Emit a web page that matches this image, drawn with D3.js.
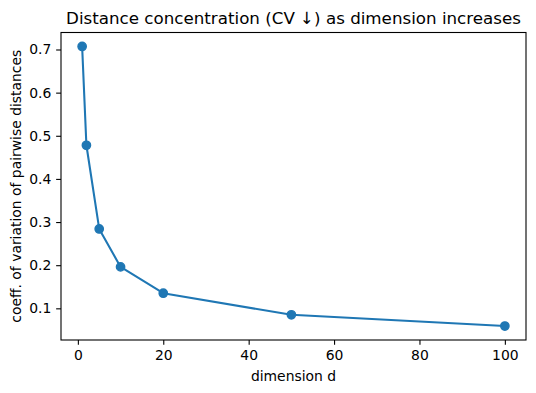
<!DOCTYPE html>
<html>
<head>
<meta charset="utf-8">
<script src="https://cdn.jsdelivr.net/npm/d3@7"></script>
<style>
  body { margin: 0; background: #fff; }
  svg text { font-family: "DejaVu Sans", sans-serif; fill: #000; }
</style>
</head>
<body>
<div id="chart"></div>
<script>
// values
var dims = [1, 2, 5, 10, 20, 50, 100];
var cvValues = [0.707, 0.478, 0.284, 0.196, 0.135, 0.085, 0.059];
var xTicks = [0, 20, 40, 60, 80, 100];
var yTicks = [0.1, 0.2, 0.3, 0.4, 0.5, 0.6, 0.7];

var width = 536, height = 393;
var margin = { top: 32.5, right: 10, bottom: 53, left: 61 };

var svg = d3.select("#chart").append("svg")
  .attr("width", width)
  .attr("height", height);

// matplotlib style 5% padding around the data
function padded(ext) {
  var pad = (ext[1] - ext[0]) * 0.05;
  return [ext[0] - pad, ext[1] + pad];
}

var x = d3.scaleLinear()
  .domain(padded(d3.extent(dims)))
  .range([margin.left, width - margin.right]);

var y = d3.scaleLinear()
  .domain(padded(d3.extent(cvValues)))
  .range([height - margin.bottom, margin.top]);

var tickLen = 4.86;

// x axis
var xAxis = svg.append("g")
  .attr("transform", "translate(0," + (height - margin.bottom) + ")")
  .call(d3.axisBottom(x).tickValues(xTicks).tickSize(tickLen).tickPadding(4.9).tickFormat(d3.format("d")));

// y axis
var yAxis = svg.append("g")
  .attr("transform", "translate(" + margin.left + ",0)")
  .call(d3.axisLeft(y).tickValues(yTicks).tickSize(tickLen).tickPadding(4.9).tickFormat(d3.format(".1f")));

[xAxis, yAxis].forEach(function(g) {
  g.select(".domain").remove();
  g.selectAll("line").attr("stroke", "#000").attr("stroke-width", 1.1);
  g.selectAll("text").attr("font-size", "13.9px").attr("fill", "#000")
    .style("font-family", "'DejaVu Sans', sans-serif");
});

// frame
svg.append("rect")
  .attr("x", margin.left)
  .attr("y", margin.top)
  .attr("width", width - margin.right - margin.left)
  .attr("height", height - margin.bottom - margin.top)
  .attr("fill", "none")
  .attr("stroke", "#000")
  .attr("stroke-width", 1.1);

var line = d3.line()
  .x(function(d, i) { return x(dims[i]); })
  .y(function(d) { return y(d); });

svg.append("path")
  .datum(cvValues)
  .attr("d", line)
  .attr("fill", "none")
  .attr("stroke", "#1f77b4")
  .attr("stroke-width", 2.08)
  .attr("stroke-linejoin", "round");

// markers: 6pt disc with a 1pt edge, like matplotlib's 'o'
svg.selectAll("circle.pt")
  .data(cvValues)
  .enter().append("circle")
  .attr("class", "pt")
  .attr("cx", function(d, i) { return x(dims[i]); })
  .attr("cy", function(d) { return y(d); })
  .attr("r", 4.17)
  .attr("fill", "#1f77b4")
  .attr("stroke", "#1f77b4")
  .attr("stroke-width", 1.39);

// title and labels
svg.append("text")
  .attr("x", (margin.left + width - margin.right) / 2)
  .attr("y", margin.top - 8.3)
  .attr("text-anchor", "middle")
  .attr("font-size", "16.7px")
  .text("Distance concentration (CV \u2193) as dimension increases");

svg.append("text")
  .attr("x", (margin.left + width - margin.right) / 2)
  .attr("y", height - 12)
  .attr("text-anchor", "middle")
  .attr("font-size", "13.9px")
  .text("dimension d");

svg.append("text")
  .attr("transform", "translate(21," + (margin.top + height - margin.bottom) / 2 + ") rotate(-90)")
  .attr("text-anchor", "middle")
  .attr("font-size", "13.9px")
  .text("coeff. of variation of pairwise distances");
</script>
</body>
</html>
